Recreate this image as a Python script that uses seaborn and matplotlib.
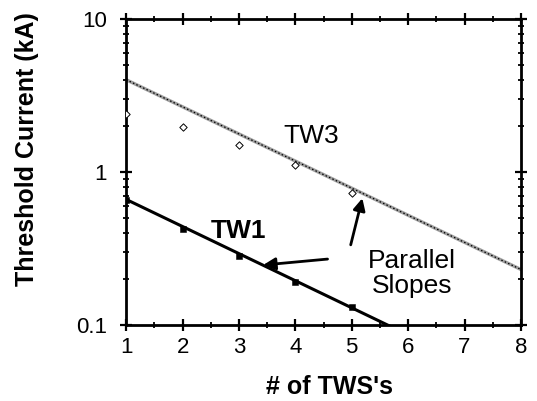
import numpy as np
import matplotlib
matplotlib.use("Agg")
import matplotlib.pyplot as plt
import seaborn as sns
from matplotlib.ticker import FixedLocator, MultipleLocator, LogLocator, NullFormatter

# ==========================================
# Data
# ==========================================

tws = [1, 2, 3, 4, 5]
tw1_current = [0.65, 0.42, 0.28, 0.19, 0.13]
tw3_current = [2.4, 1.95, 1.5, 1.1, 0.73]

fit_x = [1, 8]
tw1_fit = [0.66, 0.038]
tw3_fit = [4.0, 0.23]

x_ticks = [1, 2, 3, 4, 5, 6, 7, 8]
y_ticks = [0.1, 1, 10]
y_tick_labels = ["0.1", "1", "10"]

# ==========================================
# Style
# ==========================================

sns.set_style("ticks")
plt.rcParams["font.family"] = ["Liberation Sans", "DejaVu Sans"]
plt.rcParams["text.color"] = "black"
plt.rcParams["axes.labelcolor"] = "black"
plt.rcParams["xtick.color"] = "black"
plt.rcParams["ytick.color"] = "black"

fig = plt.figure(figsize=(5.37, 4.01), dpi=100)
ax = fig.add_axes([0.235, 0.19, 0.735, 0.763])

# ==========================================
# Lines and markers
# ==========================================

# TW3 fit: light grey line with small dotted pattern
sns.lineplot(x=fit_x, y=tw3_fit, ax=ax, color="#a0a0a0", linewidth=2.4)
sns.lineplot(x=fit_x, y=tw3_fit, ax=ax, color="black", linewidth=0.9,
             linestyle=(0, (1.2, 1.8)))
sns.scatterplot(x=tws, y=tw3_current, ax=ax, marker="D", s=14,
                facecolor="white", edgecolor="black", linewidth=0.7, zorder=5)

# TW1 fit: thick solid black line
sns.lineplot(x=fit_x, y=tw1_fit, ax=ax, color="black", linewidth=2.2)
sns.scatterplot(x=tws, y=tw1_current, ax=ax, marker="s", s=22,
                color="black", edgecolor="black", zorder=5)

# ==========================================
# Axes
# ==========================================

ax.set_yscale("log")
ax.set_xlim(1, 8)
ax.set_ylim(0.1, 10)

ax.xaxis.set_major_locator(FixedLocator(x_ticks))
ax.xaxis.set_minor_locator(MultipleLocator(0.5))
ax.yaxis.set_major_locator(FixedLocator(y_ticks))
ax.set_yticklabels(y_tick_labels)
ax.yaxis.set_minor_locator(LogLocator(base=10, subs=np.arange(2, 10)))
ax.yaxis.set_minor_formatter(NullFormatter())

ax.tick_params(which="major", direction="inout", length=8, width=1.6,
               top=True, right=True, labelsize=16)
ax.tick_params(axis="y", which="major", pad=10)
ax.tick_params(axis="x", which="major", pad=5)
ax.tick_params(which="minor", direction="inout", length=4.5, width=1.3,
               top=True, right=True)

for spine in ax.spines.values():
    spine.set_visible(True)
    spine.set_linewidth(2)
    spine.set_color("black")

ax.set_xlabel("# of TWS's", fontsize=18, fontweight="bold")
ax.set_ylabel("Threshold Current (kA)", fontsize=18, fontweight="bold")
ax.xaxis.set_label_coords(0.516, -0.165)
ax.yaxis.set_label_coords(-0.22, 0.575)

# ==========================================
# Annotations
# ==========================================

ax.text(4.28, 1.72, "TW3", fontsize=19, ha="center", va="center")
ax.text(3.0, 0.41, "TW1", fontsize=19, ha="center", va="center", fontweight="bold")
ax.text(6.07, 0.215, "Parallel\nSlopes", fontsize=19, ha="center", va="center",
        linespacing=1.05)

ax.annotate("", xy=(5.2, 0.70), xytext=(4.97, 0.32),
            arrowprops=dict(arrowstyle="-|>", color="black", lw=2,
                            mutation_scale=18))
ax.annotate("", xy=(3.38, 0.245), xytext=(4.62, 0.27),
            arrowprops=dict(arrowstyle="-|>", color="black", lw=2,
                            mutation_scale=18))

fig.savefig("out.png", dpi=100)
